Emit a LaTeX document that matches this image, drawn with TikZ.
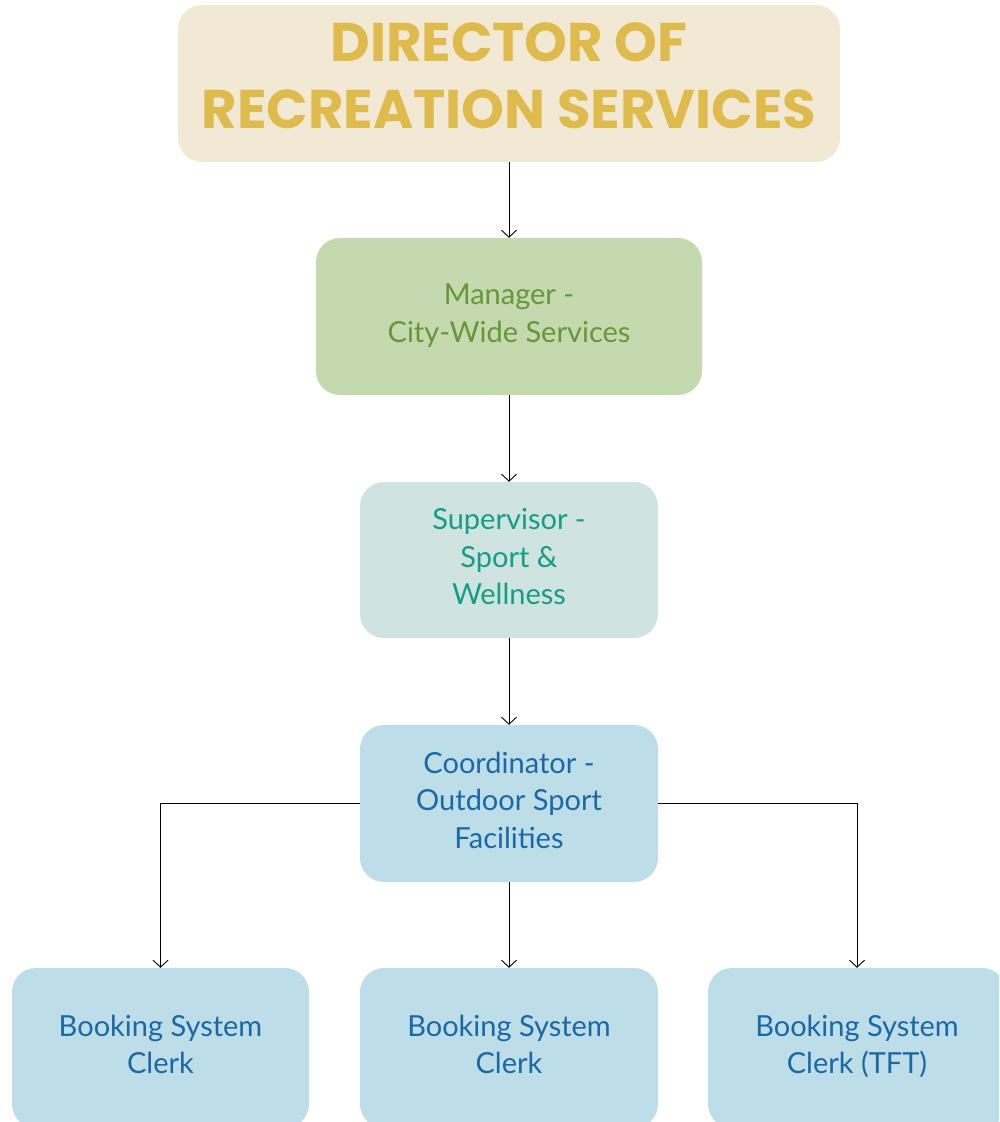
\documentclass[tikz,border=0pt]{standalone}
\usepackage{fontspec}
\setmainfont{Lato}
\newfontfamily\headfont{Poppins}
\usetikzlibrary{arrows.meta}
\definecolor{dirfill}{HTML}{F2E9D4}
\definecolor{dirtext}{HTML}{DEBB4C}
\definecolor{mgrfill}{HTML}{C4D9AD}
\definecolor{mgrtext}{HTML}{67973A}
\definecolor{supfill}{HTML}{CFE4E0}
\definecolor{suptext}{HTML}{139E85}
\definecolor{crdfill}{HTML}{BDDEE8}
\definecolor{crdtext}{HTML}{1A69A6}
\tikzset{
  orgbox/.style={rounded corners=24pt, inner sep=0pt, align=center, text depth=7pt,
    font=\fontsize{29}{37.5}\selectfont},
  dirbox/.style={fill=dirfill, text=dirtext, text depth=16pt,
    font=\headfont\bfseries\fontsize{54.5}{67}\selectfont},
  mgrbox/.style={fill=mgrfill, text=mgrtext},
  supbox/.style={fill=supfill, text=suptext},
  crdbox/.style={fill=crdfill, text=crdtext},
  link/.style={line width=0.9pt, -{Straight Barb[length=7pt,width=15pt]}}
}
\newcommand{\orgbox}[7]{\node[orgbox,#6,minimum width=#4pt,minimum height=#5pt] (#1) at (#2,#3) {#7};}

\begin{document}
\begin{tikzpicture}[x=1pt,y=-1pt]
\useasboundingbox (0,0) rectangle (999,1122);
\clip (0,0) rectangle (999,1122);
% top of the chart
\orgbox{dir}{509}{83.5}{662}{157}{dirbox}{DIRECTOR OF\\RECREATION SERVICES}
\orgbox{mgr}{509}{316.5}{386}{157}{mgrbox}{Manager -\\City-Wide Services}
\orgbox{sup}{509}{560}{298}{156}{supbox}{Supervisor -\\Sport \&\\Wellness}
\orgbox{crd}{509}{803.5}{298}{157}{crdbox}{Coordinator -\\Outdoor Sport\\Facilities}
% clerks row
\orgbox{clerka}{160.5}{1048}{297}{160}{crdbox}{Booking System\\Clerk}
\orgbox{clerkb}{509}{1048}{298}{160}{crdbox}{Booking System\\Clerk}
\orgbox{clerkc}{857}{1048}{298}{160}{crdbox}{Booking System\\Clerk (TFT)}
% links
\draw[link] (dir) -- (mgr);
\draw[link] (mgr) -- (sup);
\draw[link] (sup) -- (crd);
\draw[link] (crd) -- (clerkb);
\draw[link] (crd.west) -| (clerka);
\draw[link] (crd.east) -| (clerkc);
\end{tikzpicture}
\end{document}
